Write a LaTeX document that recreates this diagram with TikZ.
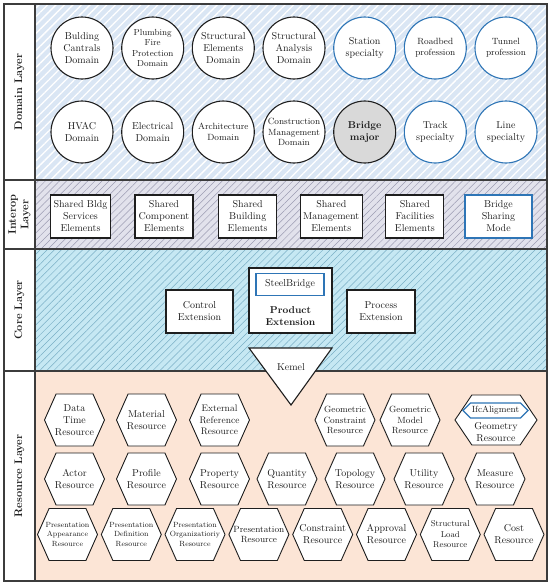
\documentclass[tikz,border=0pt]{standalone}
\usetikzlibrary{shapes.symbols,patterns.meta}
\definecolor{ink}{HTML}{1E1E1E}
\definecolor{frame}{HTML}{3C3C3C}
\definecolor{skyblue}{HTML}{2E75B6}
\definecolor{domainbg}{HTML}{DAE6F4}
\definecolor{interbg}{HTML}{E2E2EC}
\definecolor{interline}{HTML}{9C9CB2}
\definecolor{corebg}{HTML}{C6E8F3}
\definecolor{coreline}{HTML}{7AAFC5}
\definecolor{resbg}{HTML}{FCE5D6}
\definecolor{majorfill}{HTML}{D9D9D9}

\begin{document}
\begin{tikzpicture}[
  x=1pt,y=-1pt,
  font=\fontsize{10}{12}\selectfont,
  layerline/.style={draw=frame,line width=1.3pt},
  laytitle/.style={rotate=90,font=\fontsize{11}{12.5}\selectfont\bfseries,align=center,text=ink},
  domcircle/.style={circle,draw=ink,line width=1.1pt,fill=white,minimum size=62pt,
    inner sep=0pt,align=center,text=ink},
  specialty/.style={domcircle,draw=skyblue},
  shared/.style={rectangle,draw=ink,line width=1.1pt,fill=white,minimum width=58pt,
    minimum height=43pt,inner sep=3pt,align=center,text=ink},
  resource/.style={signal,signal to=west and east,signal pointer angle=132,draw=ink,
    line width=0.9pt,fill=white,minimum width=60pt,minimum height=52pt,
    inner xsep=-12pt,inner ysep=0pt,align=center,text=ink},
  smallfont/.style={font=\fontsize{9}{10.8}\selectfont},
  tinyfont/.style={font=\fontsize{7.5}{9.5}\selectfont}
]
  \useasboundingbox (0,0) rectangle (550,587);

  \fill[domainbg] (35,4) rectangle (547,180);
  \fill[pattern={Lines[angle=45,distance=6pt,line width=1.3pt]},pattern color=white]
    (35,4) rectangle (547,180);
  \fill[interbg] (35,180) rectangle (547,249);
  \fill[pattern={Lines[angle=45,distance=5pt,line width=0.5pt]},pattern color=interline]
    (35,180) rectangle (547,249);
  \fill[corebg] (35,249) rectangle (547,371);
  \fill[pattern={Lines[angle=45,distance=5pt,line width=0.5pt]},pattern color=coreline]
    (35,249) rectangle (547,371);
  \fill[resbg] (35,371) rectangle (547,581);

  \draw[layerline] (4,4) rectangle (547,581);
  \draw[layerline] (35,4) -- (35,581);
  \draw[layerline] (4,180) -- (547,180);
  \draw[layerline] (4,249) -- (547,249);
  \draw[layerline] (4,371) -- (547,371);

  \node[laytitle] (ldom) at (19.5,92) {Domain Layer};
  \node[laytitle] (lint) at (19.5,214.5) {Interop\\Layer};
  \node[laytitle] (lcor) at (19.5,310) {Core Layer};
  \node[laytitle] (lres) at (19.5,476) {Resource Layer};

  \node[domcircle] (bcd) at (82,48) {Bulding\\Cantrals\\Domain};
  \node[domcircle,font=\fontsize{8.8}{10.6}\selectfont] (pfp) at (152.7,48)
    {Plumbing\\Fire\\Protection\\Domain};
  \node[domcircle] (sed) at (223.3,48) {Structural\\Elements\\Domain};
  \node[domcircle] (sad) at (294,48) {Structural\\Analysis\\Domain};
  \node[specialty] (sts) at (364.7,48) {Station\\specialty};
  \node[specialty,smallfont] (rbp) at (435.3,48) {Roadbed\\profession};
  \node[specialty,smallfont] (tnp) at (506,48) {Tunnel\\profession};

  \node[domcircle] (hvd) at (82,132) {HVAC\\Domain};
  \node[domcircle] (eld) at (152.7,132) {Electrical\\Domain};
  \node[domcircle,smallfont] (ard) at (223.3,132) {Architecture\\Domain};
  \node[domcircle,smallfont] (cmd) at (294,132) {Construction\\Management\\Domain};
  \node[domcircle,fill=majorfill,font=\fontsize{10}{12}\selectfont\bfseries] (brm)
    at (364.7,132) {Bridge\\major};
  \node[specialty] (trs) at (435.3,132) {Track\\specialty};
  \node[specialty] (lns) at (506,132) {Line\\specialty};

  \node[shared] (sbs) at (80.5,216.5) {Shared Bldg\\Services\\Elements};
  \node[shared] (sce) at (164,216.5) {Shared\\Component\\Elements};
  \node[shared] (sbe) at (247.7,216.5) {Shared\\Building\\Elements};
  \node[shared] (sme) at (331.3,216.5) {Shared\\Management\\Elements};
  \node[shared] (sfe) at (414.9,216.5) {Shared\\Facilities\\Elements};
  \node[shared,draw=skyblue,minimum width=67pt] (bsm) at (498.5,216.5)
    {Bridge\\Sharing\\Mode};

  \node[shared,minimum width=67pt] (ctl) at (199.5,311.5) {Control\\Extension};
  \node[shared,minimum width=83pt,minimum height=65pt] (prd) at (290.5,300.5) {};
  \node[shared,draw=skyblue,minimum width=68pt,minimum height=22pt] (stb)
    at (290,284.5) {SteelBridge};
  \node[align=center,font=\fontsize{10}{12}\selectfont\bfseries,text=ink] (prt)
    at (290.5,316) {Product\\Extension};
  \node[shared,minimum width=68pt] (prc) at (381,311.5) {Process\\Extension};

  \draw[draw=ink,line width=1.1pt,fill=white] (249,348) -- (332,348) -- (291,405) -- cycle;
  \node[text=ink] (krn) at (291,367) {Kemel};

  \node[resource] (dtr) at (74.5,420) {Data\\Time\\Resource};
  \node[resource] (mtr) at (146.5,420) {Material\\Resource};
  \node[resource,font=\fontsize{9.5}{11.5}\selectfont] (err) at (219.5,420)
    {External\\Reference\\Resource};
  \node[resource,smallfont] (gcr) at (345,420) {Geometric\\Constraint\\Resource};
  \node[resource,smallfont] (gmr) at (410,420) {Geometric\\Model\\Resource};
  \node[resource,minimum width=82pt,minimum height=50pt,signal pointer angle=112]
    (gor) at (496,420) {};
  \node[resource,draw=skyblue,line width=1.2pt,minimum width=65pt,minimum height=15pt,
    signal pointer angle=90,inner xsep=0pt,font=\fontsize{9}{10}\selectfont]
    (ifa) at (495.5,410.5) {IfcAligment};
  \node[align=center,text=ink] (gtx) at (496,432) {Geometry\\Resource};

  \node[resource] (acr) at (74.5,479) {Actor\\Resource};
  \node[resource] (pfr) at (146.5,479) {Profile\\Resource};
  \node[resource] (ppr) at (219.5,479) {Property\\Resource};
  \node[resource] (qtr) at (287,479) {Quantity\\Resource};
  \node[resource] (tpr) at (355,479) {Topology\\Resource};
  \node[resource] (utr) at (424,479) {Utility\\Resource};
  \node[resource] (msr) at (495,479) {Measure\\Resource};

  \node[resource,tinyfont] (par) at (67.5,534.5) {Presentation\\Appearance\\Resource};
  \node[resource,tinyfont] (pdr) at (131.3,534.5) {Presentation\\Definition\\Resource};
  \node[resource,tinyfont] (por) at (195,534.5) {Presentation\\Organizatioriy\\Resource};
  \node[resource,smallfont] (psr) at (258.9,534.5) {Presentation\\Resource};
  \node[resource] (csr) at (322.7,534.5) {Constraint\\Resource};
  \node[resource] (apr) at (386.5,534.5) {Approval\\Resource};
  \node[resource,font=\fontsize{8.5}{10.5}\selectfont] (slr) at (450.3,534.5)
    {Structural\\Load\\Resource};
  \node[resource] (cor) at (514,534.5) {Cost\\Resource};
\end{tikzpicture}
\end{document}
